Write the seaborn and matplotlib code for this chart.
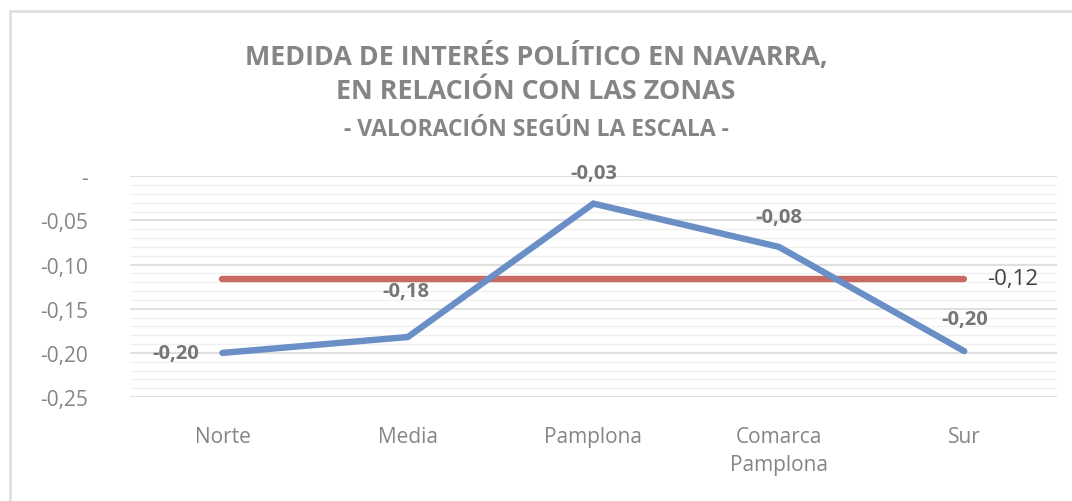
import pandas as pd
import matplotlib.pyplot as plt
import seaborn as sns
from matplotlib.ticker import MultipleLocator, FuncFormatter
from matplotlib.patches import Rectangle

zonas = ["Norte", "Media", "Pamplona", "Comarca\nPamplona", "Sur"]
valores_zona = [-0.200, -0.182, -0.031, -0.080, -0.198]
media_navarra = [-0.116] * 5


def coma(v):
    return f"{v:.2f}".replace(".", ",")


sns.set_theme(style="white")
plt.rcParams["font.family"] = ["Open Sans", "DejaVu Sans"]

df = pd.DataFrame({"x": range(len(zonas)), "zona": valores_zona, "media": media_navarra})

fig = plt.figure(figsize=(10.72, 5.02), dpi=100)
ax = fig.add_axes([0.121, 0.207, 0.865, 0.440])

blue = "#6a8fc7"
red = "#c96a62"
sns.lineplot(data=df, x="x", y="media", ax=ax, color=red, linewidth=4.6,
             solid_capstyle="round", zorder=3)
sns.lineplot(data=df, x="x", y="zona", ax=ax, color=blue, linewidth=4.6,
             solid_capstyle="round", solid_joinstyle="miter", zorder=4)

ax.set_xlim(-0.5, 4.5)
ax.set_ylim(-0.25, 0.0)
ax.yaxis.set_major_locator(MultipleLocator(0.05))
ax.yaxis.set_minor_locator(MultipleLocator(0.01))
ax.yaxis.set_major_formatter(FuncFormatter(
    lambda v, p: "-" if abs(v) < 1e-9 else coma(v)))
ax.grid(which="major", axis="y", color="#d9d9d9", linewidth=1.2)
ax.grid(which="minor", axis="y", color="#f0f0f0", linewidth=1.0)
ax.set_axisbelow(True)
for s in ax.spines.values():
    s.set_visible(False)
ax.set_xticks(range(len(zonas)))
ax.set_xticklabels(zonas, linespacing=1.45)
ax.tick_params(axis="both", length=0, labelsize=15, labelcolor="#858585")
ax.tick_params(axis="x", pad=21)
ax.tick_params(axis="y", pad=30)
ax.set_xlabel("")
ax.set_ylabel("")

# etiquetas de datos
offsets = [(-0.25, 0.0), (-0.01, 0.052), (0.0, 0.035), (0.0, 0.034), (0.0, 0.036)]
for i, v in enumerate(valores_zona):
    dx, dy = offsets[i]
    ax.text(i + dx, v + dy, coma(v), ha="center", va="center",
            fontsize=14.5, fontweight="bold", color="#767676")
ax.text(4.125, media_navarra[-1], coma(media_navarra[-1]),
        ha="left", va="center", fontsize=16, color="#404040", clip_on=False)

fig.text(0.5, 0.853, "MEDIDA DE INTERÉS POLÍTICO EN NAVARRA,\nEN RELACIÓN CON LAS ZONAS",
         ha="center", va="center", fontsize=19.4, fontweight="bold", color="#858585",
         linespacing=1.42)
fig.text(0.5, 0.741, "- VALORACIÓN SEGÚN LA ESCALA -", ha="center", va="center",
         fontsize=16.5, fontweight="bold", color="#858585")

fig.patches.append(Rectangle((0.0093, -0.5), 2, 0.5 + 0.976, transform=fig.transFigure,
                             fill=False, edgecolor="#e0e0e0", linewidth=2))

fig.savefig("out.png", dpi=100)
